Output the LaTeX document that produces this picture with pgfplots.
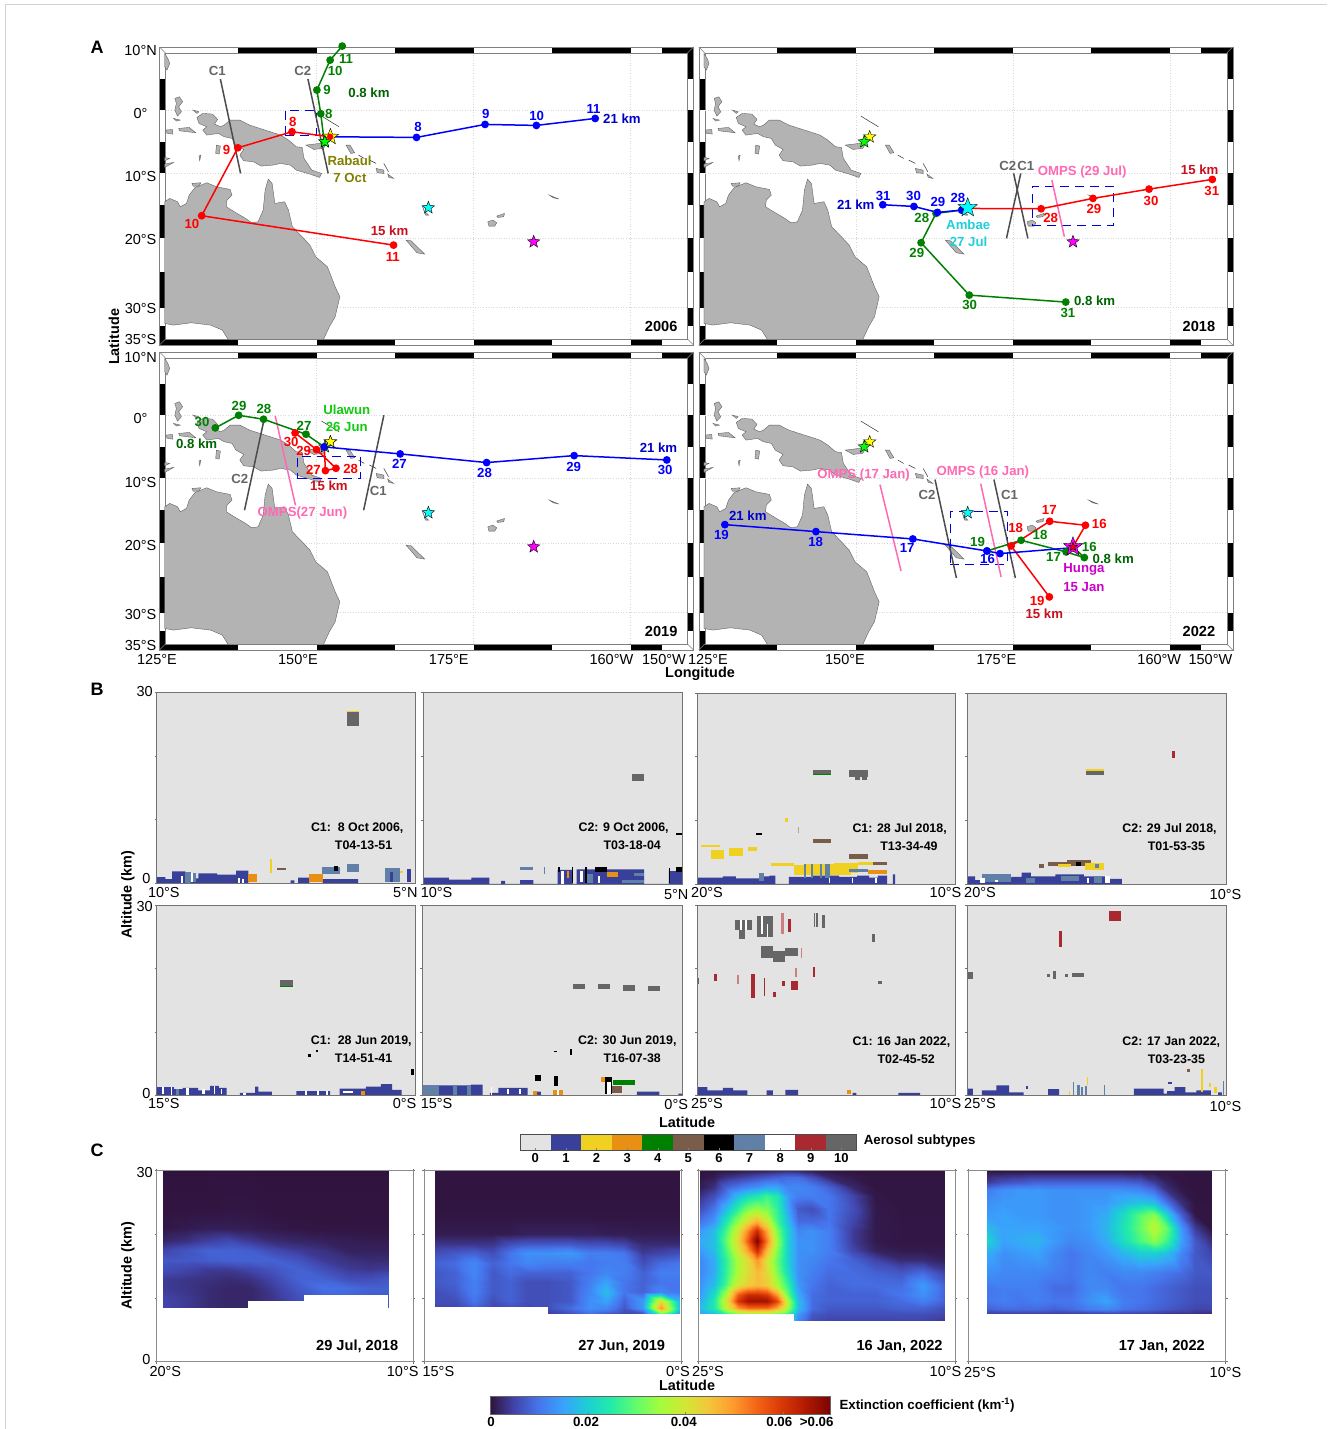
\documentclass[border=0pt]{standalone}
\usepackage{fontspec}
\setmainfont{Liberation Sans}
\usepackage{pgfplots}
\pgfplotsset{compat=1.18}
\usepackage{tikz}
\definecolor{aerA}{HTML}{E3E3E3}
\definecolor{aerB}{HTML}{39409A}
\definecolor{aerC}{HTML}{F0D020}
\definecolor{aerD}{HTML}{E89014}
\definecolor{aerE}{HTML}{008000}
\definecolor{aerF}{HTML}{7A5C4A}
\definecolor{aerH}{HTML}{6080A8}
\definecolor{aerJ}{HTML}{A82A30}
\definecolor{aerK}{HTML}{666666}
\definecolor{coast}{HTML}{B3B3B3}
\definecolor{lred}{HTML}{FF0000}
\definecolor{lblue}{HTML}{0000FF}
\definecolor{lgreen}{HTML}{008000}
\definecolor{dred}{HTML}{C8101E}
\definecolor{dblue}{HTML}{0000CC}
\definecolor{dgreen}{HTML}{006400}
\definecolor{pink}{HTML}{FF69B4}
\definecolor{olive2}{HTML}{808000}
\definecolor{cyan2}{HTML}{20D0D8}
\definecolor{lime2}{HTML}{10CC10}
\definecolor{mag2}{HTML}{CC00CC}
\definecolor{gr2}{HTML}{666666}
\definecolor{starY}{HTML}{FFFF00}
\definecolor{starG}{HTML}{00FF00}
\definecolor{starC}{HTML}{00FFFF}
\definecolor{starM}{HTML}{FF00FF}
\pgfplotsset{colormap={myturbo}{rgb255=(48,18,59) rgb255=(65,69,171) rgb255=(70,117,237) rgb255=(57,162,252) rgb255=(27,207,212) rgb255=(36,236,166) rgb255=(97,252,108) rgb255=(164,252,59) rgb255=(209,232,52) rgb255=(243,198,58) rgb255=(254,155,45) rgb255=(243,99,21) rgb255=(217,56,6) rgb255=(177,25,1) rgb255=(122,4,2)}}
\pgfdeclareplotmark{fstar}{%
\pgfpathmoveto{\pgfpointpolar{90}{\pgfplotmarksize}}%
\pgfpathlineto{\pgfpointpolar{126}{0.42\pgfplotmarksize}}%
\pgfpathlineto{\pgfpointpolar{162}{\pgfplotmarksize}}%
\pgfpathlineto{\pgfpointpolar{198}{0.42\pgfplotmarksize}}%
\pgfpathlineto{\pgfpointpolar{234}{\pgfplotmarksize}}%
\pgfpathlineto{\pgfpointpolar{270}{0.42\pgfplotmarksize}}%
\pgfpathlineto{\pgfpointpolar{306}{\pgfplotmarksize}}%
\pgfpathlineto{\pgfpointpolar{342}{0.42\pgfplotmarksize}}%
\pgfpathlineto{\pgfpointpolar{18}{\pgfplotmarksize}}%
\pgfpathlineto{\pgfpointpolar{54}{0.42\pgfplotmarksize}}%
\pgfpathclose\pgfusepathqfillstroke}
\pgfplotsset{
 mapax/.style={hide axis,clip=false,scale only axis,width=534pt,height=298pt,xmin=125,xmax=210,ymin=-37.4,ymax=10.05,anchor=south west},
 land/.style={fill=coast,draw=black!65,line width=.35pt,forget plot,x filter/.expression={113.93+x/16.14},y filter/.expression={12.74-y/18.84}},
 thinl/.style={draw=black!80,line width=.5pt,forget plot,x filter/.expression={113.93+x/16.14},y filter/.expression={12.74-y/18.84}},
 gridl/.style={draw=black!15,dotted,line width=.6pt,forget plot},
 bax/.style={scale only axis,anchor=south west,ymin=0,ymax=30,xtick=\empty,ytick={0,10,20,30},yticklabels={},tick align=outside,major tick length=2pt,ytick pos=left,axis line style={draw=black!55,line width=.6pt},tick style={draw=black!55,line width=.5pt},axis on top,clip=true},
 bbg/.style={axis background/.style={fill=aerA}},
 cax/.style={bax,ytick pos=both,xtick pos=both,xticklabels={},colormap name=myturbo,point meta min=0,point meta max=69.6,axis line style={draw=black!45,line width=.9pt}},
}
\newcommand\R[5]{\addplot[draw=none,fill=#1,forget plot] coordinates {(#2,#4)(#3,#4)(#3,#5)(#2,#5)} -- cycle;}
\newcommand\LOW[1]{\addplot[const plot,fill=aerB,draw=none,forget plot] coordinates {#1} \closedcycle;}
\newcommand\traj[2]{\addplot[color=#1,line width=1.5pt,mark=*,mark size=3.1pt,mark options={fill=#1,solid},forget plot] coordinates {#2};}
\newcommand\cut[2]{\addplot[color=#1,line width=1.5pt,forget plot] coordinates {#2};}
\newcommand\bluebox[4]{\addplot[color=blue!85!black,line width=.8pt,dash pattern=on 9pt off 6pt,forget plot] coordinates {(#1,#3)(#2,#3)(#2,#4)(#1,#4)(#1,#3)};}
\newcommand\vstar[4]{\addplot[only marks,mark=fstar,mark size=#4pt,mark options={fill=#1,draw=black,line width=.4pt},forget plot] coordinates {(#2,#3)};}
\newcommand\basemap{%
\addplot[gridl] coordinates {(150,-36.4)(150,9.1)};
\addplot[gridl] coordinates {(175,-36.4)(175,9.1)};
\addplot[gridl] coordinates {(200,-36.4)(200,9.1)};
\addplot[gridl] coordinates {(126,0)(209,0)};
\addplot[gridl] coordinates {(126,-10.05)(209,-10.05)};
\addplot[gridl] coordinates {(126,-20.42)(209,-20.42)};
\addplot[gridl] coordinates {(126,-31.47)(209,-31.47)};
\addplot[land] coordinates {(192,515)(205,505)(225,515)(232,530)(248,520)(255,495)(270,472)(300,458)(325,470)(360,478)(365,495)(352,510)(350,530)(375,548)(400,565)(415,578)(432,575)(445,540)(450,480)(458,447)(468,460)(475,520)(500,515)(510,540)(520,590)(545,620)(565,645)(580,680)(610,710)(630,770)(642,800)(630,860)(615,890)(600,928)(355,928)(340,900)(310,885)(260,878)(215,885)(192,880)} -- cycle;
\addplot[land] coordinates {(275,262)(290,250)(315,252)(328,268)(320,282)(335,290)(345,285)(360,270)(385,270)(410,285)(450,300)(490,315)(510,330)(530,350)(545,352)(550,385)(570,420)(595,430)(590,442)(565,432)(530,420)(515,405)(490,400)(470,405)(440,408)(420,395)(395,392)(385,375)(395,358)(375,345)(365,325)(345,320)(330,310)(300,315)(290,300)(300,290)(280,280)} -- cycle;
\addplot[land] coordinates {(218,205)(230,200)(238,215)(228,230)(235,245)(225,258)(218,240)(222,220)} -- cycle;
\addplot[land] coordinates {(265,240)(280,245)(275,250)} -- cycle;
\addplot[land] coordinates {(215,265)(232,270)(222,273)} -- cycle;
\addplot[land] coordinates {(228,295)(255,292)(272,308)(250,305)(230,302)} -- cycle;
\addplot[land] coordinates {(195,300)(212,298)(213,312)(198,310)} -- cycle;
\addplot[land] coordinates {(325,345)(335,348)(332,372)(323,370)} -- cycle;
\addplot[land] coordinates {(280,378)(285,375)(282,392)} -- cycle;
\addplot[land] coordinates {(192,402)(215,397)(192,412)} -- cycle;
\addplot[land] coordinates {(192,382)(205,385)(192,392)} -- cycle;
\addplot[land] coordinates {(192,70)(200,85)(205,100)(198,120)(192,110)} -- cycle;
\addplot[land] coordinates {(555,345)(590,340)(610,335)(600,355)(575,358)} -- cycle;
\addplot[land] coordinates {(658,345)(668,345)(680,368)(670,370)} -- cycle;
\addplot[land] coordinates {(735,415)(755,420)(755,430)(738,428)} -- cycle;
\addplot[land] coordinates {(765,432)(780,445)(768,442)} -- cycle;
\addplot[land] coordinates {(853,525)(860,545)(870,555)(862,555)} -- cycle;
\addplot[land] coordinates {(1180,495)(1205,507)(1190,503)} -- cycle;
\addplot[land] coordinates {(1022,575)(1035,570)(1045,578)(1040,588)(1025,588)} -- cycle;
\addplot[land] coordinates {(1045,558)(1065,550)(1063,560)(1048,562)} -- cycle;
\addplot[land] coordinates {(812,630)(825,632)(860,672)(840,668)} -- cycle;
\addplot[land] coordinates {(262,460)(285,458)(280,468)(265,468)} -- cycle;
\addplot[thinl] coordinates {(595,258)(640,290)};
\addplot[thinl] coordinates {(690,375)(705,385)};
\addplot[thinl] coordinates {(718,390)(735,400)};
\addplot[thinl] coordinates {(755,400)(767,425)};
\vstar{starY}{152.2}{-4.27}{6.5}
\vstar{starG}{151.33}{-5.05}{6.5}
\vstar{starC}{167.8}{-15.55}{6.5}
\vstar{starM}{184.56}{-20.97}{6.5}
}
\newcommand\mapframe[2]{%
\begin{scope}[shift={(#1pt,#2pt)}]
\fill[white] (0,0) rectangle (534,298);
\fill[black] (0,298-63.1) rectangle (6,298-31.65);
\fill[black] (0,298-126.2) rectangle (6,298-94.6);
\fill[black] (0,298-191.3) rectangle (6,298-158.2);
\fill[black] (0,298-260.7) rectangle (6,298-225.4);
\fill[black] (0,0) rectangle (6,298-279.2);
\fill[black] (528,298-31.65) rectangle (534,298);
\fill[black] (528,298-94.6) rectangle (534,298-63.1);
\fill[black] (528,298-158.2) rectangle (534,298-126.2);
\fill[black] (528,298-225.4) rectangle (534,298-191.3);
\fill[black] (528,298-279.2) rectangle (534,298-260.7);
\fill[black] (78.5,292) rectangle (157,298);
\fill[black] (235.5,292) rectangle (314,298);
\fill[black] (392.5,292) rectangle (471,298);
\fill[black] (502.4,292) rectangle (534,298);
\fill[black] (0,0) rectangle (78.5,6);
\fill[black] (157,0) rectangle (235.5,6);
\fill[black] (314,0) rectangle (392.5,6);
\fill[black] (471,0) rectangle (502.4,6);
\draw[black!50,line width=.6pt] (0,0) rectangle (534,298);
\draw[black!50,line width=.6pt] (6,6) rectangle (528,292);
\draw[black!50,line width=.5pt] (0,298)--(6,292) (534,298)--(528,292) (0,0)--(6,6) (534,0)--(528,6);
\end{scope}}
\newcommand\startgrid[1]{\gdef\gcols{#1}\gdef\gdata{}}
\newcommand\grow[2]{\foreach \xv [count=\i] in \gcols {\foreach \mv [count=\j] in {#2} {\ifnum\i=\j\relax\xdef\gdata{\gdata (\xv,#1)[\mv]}\fi}}}
\newcommand\drawgrid[1]{\edef\tmpplot{\noexpand\addplot[surf,shader=interp,mesh/cols=#1,point meta=explicit,forget plot] coordinates {\gdata};}\tmpplot}
\newcommand\LA[4]{\node[lab,text=#1] at ({90+#2/2.57},{1399-#3/3}) {#4};}
\newcommand\LB[4]{\node[lab,text=#1] at ({690+#2/2.8},{1399-#3/3}) {#4};}
\newcommand\LC[4]{\node[lab,text=#1] at ({90+#2/2.57},{1084-#3/3}) {#4};}
\newcommand\LD[4]{\node[lab,text=#1] at ({690+#2/2.8},{1084-#3/3}) {#4};}
\newcommand\T[3]{\node[tk] at (#1,{1429-#2}) {#3};}
\newcommand\N[3]{\node[note] at (#1,{1429-#2}) {#3};}
\newcommand\Y[3]{\node[yr] at (#1,{1429-#2}) {#3};}
\begin{document}
\begin{tikzpicture}[x=1pt,y=1pt,
 lab/.style={font=\bfseries\fontsize{13.2}{13.2}\selectfont,inner sep=0pt},
 tk/.style={font=\fontsize{14.5}{14.5}\selectfont,inner sep=0pt},
 hd/.style={font=\bfseries\fontsize{14.4}{14.4}\selectfont,inner sep=0pt},
 note/.style={font=\bfseries\fontsize{12.4}{12.4}\selectfont,inner sep=0pt},
 yr/.style={font=\bfseries\fontsize{14.6}{14.6}\selectfont,inner sep=0pt},
 cbl/.style={font=\bfseries\fontsize{13.3}{13.3}\selectfont,inner sep=0pt}]
\path[use as bounding box] (0,0) rectangle (1328,1429);
\draw[black!18,line width=.6pt] (5,-2)--(5,1425)--(1327,1425);
%%%%% PANEL A
\mapframe{159.5}{1084}
\mapframe{698.8}{1084}
\mapframe{159.5}{779}
\mapframe{698.8}{779}
\begin{axis}[mapax,at={(159.5pt,1084pt)}]
\basemap
\bluebox{144.97}{150.05}{-4.03}{0}
\cut{black!70}{(134.69,4.94)(137.91,-10.08)}
\cut{black!70}{(148.63,4.94)(151.85,-10.08)}
\traj{lgreen}{(151.23,-5.1)(150.67,-0.58)(150.05,3.19)(152.16,7.96)(154.08,10.19)}
\traj{lred}{(152.16,-4.25)(146.09,-3.45)(137.47,-6.0)(131.71,-16.82)(162.26,-21.5)}
\traj{lblue}{(152.16,-4.25)(165.91,-4.35)(176.82,-2.28)(184.99,-2.44)(194.35,-1.33)}
\vstar{starY}{152.2}{-4.27}{8.5}
\vstar{starG}{151.33}{-5.05}{6.5}
\addplot[only marks,mark=*,mark size=3pt,color=lred,forget plot] coordinates {(152.16,-4.25)};
\end{axis}
\begin{axis}[mapax,at={(698.8pt,1084pt)}]
\basemap
\bluebox{178.07}{191.03}{-18.31}{-12.1}
\cut{black!70}{(175.11,-10.08)(177.38,-20.43)}
\cut{black!70}{(176.25,-10.08)(173.97,-20.43)}
\cut{pink}{(181.2,-11.15)(183.19,-20.17)}
\traj{lgreen}{(166.86,-15.92)(162.76,-16.45)(160.38,-21.12)(168.05,-29.46)(183.41,-30.57)}
\traj{lblue}{(167.88,-15.66)(166.86,-15.92)(162.99,-16.29)(159.24,-15.34)(154.29,-15.07)}
\traj{lred}{(167.88,-15.66)(179.49,-15.71)(187.74,-14.06)(196.67,-12.58)(206.74,-11.04)}
\vstar{starC}{167.8}{-15.55}{10}
\end{axis}
\begin{axis}[mapax,at={(159.5pt,779pt)}]
\basemap
\bluebox{147.0}{157.0}{-10.1}{-6.5}
\cut{black!70}{(141.56,-1.09)(138.53,-15.15)}
\cut{black!70}{(160.71,-0.03)(157.49,-15.15)}
\cut{pink}{(143.42,-0.13)(146.64,-14.36)}
\traj{lgreen}{(151.23,-5.07)(148.32,-3.05)(141.56,-0.66)(137.6,-0.03)(133.88,-2.04)}
\traj{lred}{(151.23,-5.07)(151.41,-8.84)(153.09,-8.47)(149.99,-5.49)(146.58,-2.84)}
\traj{lblue}{(151.23,-5.07)(163.31,-6.18)(177.07,-7.56)(191.0,-6.45)(205.75,-7.14)}
\vstar{starY}{152.2}{-4.27}{6.5}
\end{axis}
\begin{axis}[mapax,at={(698.8pt,779pt)}]
\basemap
\bluebox{165.04}{174.08}{-23.81}{-15.26}
\cut{black!70}{(162.6,-10.27)(166.0,-25.93)}
\cut{black!70}{(171.98,-10.27)(175.39,-25.93)}
\cut{pink}{(153.84,-11.07)(157.19,-24.81)}
\cut{pink}{(169.87,-10.91)(173.12,-25.77)}
\traj{lgreen}{(184.56,-20.97)(186.37,-22.69)(183.47,-21.79)(176.3,-19.93)(170.9,-21.63)}
\traj{lred}{(184.56,-20.97)(186.54,-17.54)(180.85,-16.91)(174.71,-20.83)(180.8,-28.95)}
\traj{lblue}{(184.67,-21.1)(172.95,-22.05)(170.85,-21.63)(159.07,-19.72)(143.65,-18.55)(129.15,-17.44)}
\vstar{starM}{184.56}{-20.97}{10}
\vstar{lred}{184.56}{-20.97}{4.5}
\end{axis}
% labels A1
\LA{gr2}{327}{124}{C1}\LA{gr2}{547}{124}{C2}
\LA{lgreen}{658}{88}{11}\LA{lgreen}{630}{124}{10}\LA{lgreen}{609}{181}{9}\LA{lgreen}{614}{251}{8}
\LA{dgreen}{717}{188}{0.8 km}
\LA{lblue}{843}{290}{8}\LA{lblue}{1017}{252}{9}\LA{lblue}{1148}{258}{10}\LA{lblue}{1294}{236}{11}\LA{dblue}{1367}{266}{21 km}
\LA{lred}{521}{277}{8}\LA{lred}{351}{361}{9}\LA{lred}{262}{583}{10}\LA{lred}{778}{680}{11}\LA{dred}{770}{603}{15 km}
\LA{olive2}{667}{391}{Rabaul}\LA{olive2}{668}{443}{7 Oct}
\Y{661.2}{326}{2006}
% labels A2
\LB{gr2}{890}{408}{C2}\LB{gr2}{940}{408}{C1}\LB{pink}{1098}{425}{OMPS (29 Jul)}
\LB{dred}{1427}{418}{15 km}\LB{lred}{1461}{484}{31}\LB{lred}{1131}{537}{29}\LB{lred}{1291}{512}{30}\LB{lred}{1010}{565}{28}
\LB{dblue}{464}{525}{21 km}\LB{lblue}{541}{497}{31}\LB{lblue}{626}{497}{30}\LB{lblue}{694}{516}{29}\LB{lblue}{750}{504}{28}
\LB{lgreen}{649}{563}{28}\LB{lgreen}{635}{669}{29}\LB{lgreen}{783}{825}{30}\LB{lgreen}{1058}{848}{31}\LB{dgreen}{1133}{813}{0.8 km}
\LB{cyan2}{779}{583}{Ambae}\LB{cyan2}{780}{634}{27 Jul}
\Y{1198.9}{326}{2018}
% labels A3
\LC{lgreen}{288}{230}{30}\LC{lgreen}{383}{183}{29}\LC{lgreen}{447}{193}{28}\LC{lgreen}{550}{242}{27}\LC{dgreen}{274}{295}{0.8 km}
\LC{lime2}{660}{193}{Ulawun}\LC{lime2}{660}{247}{26 Jun}
\LC{lred}{517}{292}{30}\LC{lred}{549}{317}{29}\LC{lred}{574}{375}{27}\LC{lred}{670}{372}{28}\LC{dred}{614}{423}{15 km}
\LC{lblue}{795}{357}{27}\LC{lblue}{1014}{385}{28}\LC{lblue}{1243}{366}{29}\LC{lblue}{1478}{374}{30}\LC{dblue}{1461}{308}{21 km}
\LC{gr2}{385}{402}{C2}\LC{gr2}{741}{437}{C1}\LC{pink}{546}{505}{OMPS(27 Jun)}
\Y{661.2}{631}{2019}
% labels A4
\LD{pink}{486}{391}{OMPS (17 Jan)}\LD{pink}{820}{380}{OMPS (16 Jan)}\LD{gr2}{664}{450}{C2}\LD{gr2}{895}{450}{C1}
\LD{dblue}{162}{513}{21 km}\LD{lblue}{88}{569}{19}\LD{lblue}{352}{592}{18}\LD{lblue}{608}{610}{17}\LD{lblue}{833}{643}{16}
\LD{lred}{1006}{494}{17}\LD{lred}{1146}{536}{16}\LD{lred}{912}{548}{18}\LD{lred}{972}{769}{19}\LD{dred}{992}{807}{15 km}
\LD{lgreen}{805}{590}{19}\LD{lgreen}{980}{571}{18}\LD{lgreen}{1118}{607}{16}\LD{lgreen}{1018}{637}{17}\LD{dgreen}{1185}{640}{0.8 km}
\LD{mag2}{1103}{674}{Hunga}\LD{mag2}{1103}{727}{15 Jan}
\Y{1198.9}{631}{2022}
% ticks A
\T{140.6}{50.7}{10°N}\T{140.6}{113.3}{0°}\T{140.6}{176.7}{10°S}\T{140.6}{240}{20°S}\T{140.6}{308.3}{30°S}\T{140.6}{340}{35°S}
\T{140.6}{357.3}{10°N}\T{140.6}{419}{0°}\T{140.6}{482.7}{10°S}\T{140.6}{546}{20°S}\T{140.6}{614.3}{30°S}\T{140.6}{646}{35°S}
\T{157}{660}{125°E}\T{298}{660}{150°E}\T{448.8}{660}{175°E}\T{611.4}{660}{160°W}\T{664}{660}{150°W}
\T{708}{660}{125°E}\T{845}{660}{150°E}\T{996.4}{660}{175°E}\T{1159.3}{660}{160°W}\T{1210.4}{660}{150°W}
\node[font=\bfseries\fontsize{18}{18}\selectfont,inner sep=0pt] at (97,{1429-47}) {A};
\node[font=\bfseries\fontsize{18}{18}\selectfont,inner sep=0pt] at (97,{1429-689}) {B};
\node[font=\bfseries\fontsize{18}{18}\selectfont,inner sep=0pt] at (97,{1429-1150}) {C};
\node[hd,rotate=90] at (114,{1429-337}) {Latitude};
\node[hd] at (700,{1429-674}) {Longitude};
\node[hd,rotate=90] at (128,{1429-895}) {Altitude (km)};
\node[hd,rotate=90] at (128,{1429-1266}) {Altitude (km)};
\node[hd] at (687,{1429-1122}) {Latitude};
\node[hd] at (687,{1429-1385}) {Latitude};
%%%%% PANEL B row 1
\begin{axis}[bax,bbg,at={(156.7pt,545.5pt)},width=258.8pt,height=191.5pt,xmin=-10,xmax=5]
\LOW{(-10,1.0)(-9.5,.7)(-9.11,1.9)(-8.34,0.8)(-7.58,1.6)(-6.5,1.4)(-5.4,2.0)(-4.68,0)(-2.24,0.5)(-2.02,0)(-1.8,0.9)(-1.15,0)(-0.39,0.7)(1.68,0)(4.74,0)}
\R{aerH}{-8.34}{-8.0}{0}{1.8}\R{white}{-8.0}{-7.9}{0.2}{1.6}\R{aerH}{-7.9}{-7.7}{0.2}{1.7}\R{white}{-8.6}{-8.5}{0}{1.1}
\R{white}{-5.3}{-5.15}{0}{0.9}\R{white}{-5.05}{-4.95}{0}{0.7}
\R{aerK}{1.03}{1.75}{24.6}{26.8}\R{aerC}{1.03}{1.75}{26.8}{27}
\R{aerC}{-3.46}{-3.33}{1.67}{3.9}\R{aerF}{-3.05}{-2.52}{2.09}{2.5}
\R{aerD}{-4.68}{-4.2}{0.26}{1.56}\R{aerD}{-1.15}{-0.39}{.26}{1.46}
\R{aerH}{-0.43}{0.6}{1.56}{2.6}\R{black}{0.28}{0.5}{2}{2.7}\R{aerH}{1.03}{1.75}{1.8}{3.1}
\R{aerH}{3.21}{4.08}{.26}{2.35}\R{aerB}{4.52}{4.74}{.26}{2.2}\R{aerC}{4.08}{4.25}{1.67}{1.98}\R{aerB}{3.5}{3.7}{.3}{1.8}
\end{axis}
\begin{axis}[bax,bbg,at={(423pt,545pt)},width=259.6pt,height=191.5pt,xmin=-10,xmax=5]
\LOW{(-10,1)(-8.5,.7)(-7.2,1)(-6.17,0)(-5.48,.5)(-5.26,0)(-4.39,.6)(-3.63,0)(-2.22,2.2)(-1.35,0)(-1.13,2.3)(2.78,0)(4.2,2.0)(5,0)}
\R{white}{-2.0}{-1.85}{0}{2.0}\R{aerD}{-1.7}{-1.55}{1}{2}\R{white}{-0.9}{-0.75}{0.3}{2}\R{aerH}{-0.5}{-0.2}{0.2}{1.6}\R{white}{0.1}{0.2}{0.2}{1.2}\R{aerH}{2.2}{2.78}{1.3}{1.7}
\R{black}{-0.65}{-0.52}{0.1}{2.7}\R{black}{-0.09}{0.65}{1.93}{2.6}\R{aerD}{.65}{1.26}{1.15}{1.93}\R{aerH}{-4.39}{-3.63}{2.2}{2.6}\R{aerH}{1.48}{2.78}{.2}{.63}
\R{black}{-2.22}{-2.1}{1.9}{2.7}\R{black}{-1.4}{-1.33}{0.1}{2.7}\R{black}{4.2}{4.26}{0.1}{2.5}\R{black}{4.59}{4.96}{1.93}{2.6}
\R{aerK}{2.07}{2.78}{16.2}{17.2}\R{black}{4.63}{4.96}{7.7}{8.0}\R{aerH}{-3.0}{-2.93}{1.5}{2.7}
\end{axis}
\begin{axis}[bax,bbg,at={(697pt,545pt)},width=258.3pt,height=191pt,xmin=-20,xmax=-10]
\LOW{(-20,1.0)(-19,1.2)(-18.5,.9)(-17.6,1.2)(-17.2,1.3)(-16.97,0)(-16.44,1.1)(-15.5,1.3)(-14.5,1.1)(-13.8,1.3)(-13.34,1.0)(-13,1.3)(-12.64,0)(-12.42,1.5)(-12.33,0)}
\R{aerC}{-19.85}{-19.11}{5.86}{6.2}\R{aerC}{-19.46}{-18.94}{4}{5.34}\R{aerC}{-18.76}{-18.23}{4.45}{5.6}\R{aerC}{-18.03}{-17.68}{5.2}{5.76}
\R{aerC}{-17.14}{-16.23}{2.83}{3.35}\R{aerC}{-16.23}{-15.8}{1.4}{3}\R{aerC}{-15.8}{-14.04}{1.4}{3.14}\R{aerC}{-14.68}{-13.76}{1.67}{3.25}\R{aerC}{-13.76}{-13.2}{3}{3.5}
\R{aerF}{-15.52}{-14.82}{6.4}{7.0}\R{aerF}{-14.11}{-13.38}{3.93}{4.66}\R{aerF}{-13.2}{-12.66}{2.93}{3.46}
\R{aerD}{-13.38}{-12.66}{1.57}{2.2}\R{aerH}{-14.11}{-13.38}{1.83}{2.36}
\R{aerK}{-15.52}{-14.82}{17.23}{17.9}\R{aerE}{-15.52}{-14.82}{17.15}{17.25}\R{aerK}{-14.11}{-13.38}{16.75}{17.9}\R{aerK}{-13.9}{-13.7}{16.3}{16.75}\R{aerK}{-13.62}{-13.4}{16.3}{16.75}
\R{black}{-17.7}{-17.5}{7.64}{8.06}\R{aerC}{-16.58}{-16.47}{9.7}{10.3}
\R{aerH}{-15.85}{-15.78}{1}{3.1}\R{aerH}{-15.6}{-15.52}{1}{3.1}\R{aerH}{-15.25}{-15.18}{1}{3.1}\R{aerH}{-15.05}{-14.85}{1}{3.1}\R{aerH}{-17.6}{-17.4}{.5}{1.8}\R{black!35}{-16.1}{-16.07}{8}{9}
\R{white}{-14.9}{-14.85}{.2}{1}\R{white}{-14}{-13.95}{.1}{1}\R{white}{-13.1}{-13.03}{.1}{1}
\end{axis}
\begin{axis}[bax,bbg,at={(967.3pt,545pt)},width=259.2pt,height=191pt,xmin=-20,xmax=-10]
\LOW{(-20,1.2)(-19.7,.6)(-19.3,1.0)(-18.3,1.1)(-17.9,1.8)(-17.55,1.2)(-16.6,1.5)(-15.5,1.2)(-14.6,.8)(-14.04,0)}
\R{aerH}{-19.44}{-18.32}{.35}{1.57}\R{aerH}{-17.75}{-17.4}{.2}{.9}\R{white}{-19.5}{-19.3}{.2}{1}\R{white}{-18.95}{-18.8}{.3}{.7}\R{aerH}{-16.4}{-15.7}{.5}{1.2}\R{white}{-15.4}{-15.3}{.2}{1}\R{aerH}{-15.1}{-14.8}{.2}{1.3}\R{white}{-14.7}{-14.5}{.2}{1.2}
\R{aerF}{-17.24}{-17.05}{2.56}{3.1}\R{aerF}{-16.89}{-16.14}{2.83}{3.5}\R{aerF}{-16.14}{-15.23}{2.83}{3.77}
\R{aerC}{-16.5}{-16}{2.6}{3.2}\R{aerC}{-15.47}{-14.74}{2.2}{3.35}\R{black}{-15.79}{-15.62}{2.83}{3.4}\R{aerH}{-15.09}{-14.92}{2.46}{3.1}
\R{aerK}{-15.44}{-14.74}{17.1}{17.8}\R{aerC}{-15.44}{-14.74}{17.8}{18}\R{aerJ}{-12.1}{-12.0}{19.85}{20.84}
\end{axis}
%%%%% PANEL B row 2
\begin{axis}[bax,bbg,at={(156.7pt,333.5pt)},width=258.8pt,height=190.5pt,xmin=-15,xmax=0]
\LOW{(-15,1.3)(-14,1.0)(-13.5,1.2)(-12.6,.8)(-11.9,1.5)(-11.4,1.2)(-10.95,0)(-10.18,.4)(-9.3,1.4)(-9.1,.6)(-8.33,0)(-6.91,.7)(-4.95,0)(-4.4,1.1)(-2.88,1.4)(-2,1.8)(-1.35,.9)(-0.81,0)}
\R{white}{-14.7}{-14.6}{.2}{1.3}\R{white}{-14.2}{-14.1}{.1}{1.3}\R{white}{-13.3}{-13.15}{.1}{1.2}\R{white}{-12.4}{-12.2}{.2}{1}\R{white}{-11.7}{-11.6}{.2}{1.5}\R{white}{-11.3}{-11.2}{.2}{1}\R{aerH}{-13.9}{-13.7}{.1}{1}\R{white}{-10}{-9.8}{0.1}{.4}\R{white}{-6.4}{-6.3}{.1}{.7}\R{white}{-5.7}{-5.6}{.1}{.7}\R{white}{-5.2}{-5.1}{.1}{.7}\R{white}{-4.2}{-3.6}{.45}{.7}
\R{aerD}{-3.14}{-2.92}{0}{.63}\R{aerK}{-7.83}{-7.11}{17.3}{18.25}\R{aerE}{-7.83}{-7.11}{17.2}{17.3}\R{black}{-0.26}{-0.09}{3.15}{4.2}\R{black}{-6.21}{-6.04}{6}{6.5}\R{black}{-5.78}{-5.67}{6.9}{7.1}
\end{axis}
\begin{axis}[bax,bbg,at={(422.3pt,333.5pt)},width=259.6pt,height=190.5pt,xmin=-15,xmax=0]
\LOW{(-15,1.6)(-12.2,1.7)(-11.52,0)(-11.09,.4)(-10.6,1.2)(-8.91,0)(-8.59,.6)(-8.15,0)(-2.6,.6)(-1.3,0)(-0.2,.3)(0,0)}
\R{aerH}{-15}{-14.02}{0}{1.57}\R{aerH}{-13.2}{-13}{0}{1.6}\R{aerH}{-12.4}{-12.2}{0}{1.6}\R{white}{-11.05}{-10.95}{.1}{1.4}\R{white}{-10.1}{-10}{.2}{1}\R{white}{-9.4}{-9.3}{.2}{1}
\R{aerK}{-6.3}{-5.59}{16.83}{17.57}\R{aerK}{-4.87}{-4.13}{16.83}{17.57}\R{aerK}{-3.41}{-2.7}{16.5}{17.4}\R{aerK}{-1.98}{-1.26}{16.4}{17.3}
\R{black}{-8.48}{-8.15}{2.36}{3.3}\R{black}{-7.39}{-7.17}{1.57}{3}\R{black}{-6.48}{-6.35}{6.3}{7.3}\R{black}{-7.39}{-7.24}{6.8}{7.0}
\R{black}{-4.46}{-4.02}{.26}{2.9}\R{white}{-4.3}{-4.1}{.3}{2.1}\R{aerE}{-3.96}{-2.72}{1.68}{2.5}\R{aerF}{-4.02}{-3.48}{.4}{1.47}\R{aerD}{-4.67}{-4.46}{2.1}{2.9}
\R{aerD}{-7.43}{-6.85}{0}{.8}\R{aerD}{-8.59}{-8.35}{0}{.7}\R{white}{-7.2}{-7.1}{0}{.8}
\end{axis}
\begin{axis}[bax,bbg,at={(697pt,333.5pt)},width=258.3pt,height=190.5pt,xmin=-25,xmax=-10]
\LOW{(-25,1.3)(-24.4,.8)(-23.5,1.2)(-22.9,.8)(-22.08,0)(-20.96,.8)(-20.6,0)(-19.87,.9)(-19.13,0)(-15.96,.4)(-15.75,0)(-13.31,.4)(-12.05,0)}
\R{aerK}{-22.78}{-21.83}{26}{27.6}\R{white}{-22.5}{-22.4}{26}{27.6}\R{white}{-22.2}{-22.1}{26}{27.6}\R{aerK}{-22.57}{-22.19}{24.65}{26}
\R{aerK}{-21.51}{-20.6}{25}{28.3}\R{white}{-21.3}{-21.15}{25.5}{28.3}\R{white}{-20.95}{-20.85}{25}{27}
\R{aerK}{-18.22}{-18.17}{26.6}{28.7}\R{aerK}{-18.08}{-18.0}{26.6}{28.7}\R{aerK}{-17.75}{-17.58}{26.4}{28.5}\R{aerK}{-14.84}{-14.65}{24.1}{25.4}
\R{aerK}{-21.3}{-20.56}{21.6}{23.6}\R{aerK}{-20.6}{-19.87}{21.1}{22.7}\R{aerK}{-19.87}{-19.13}{21.9}{23.2}
\R{aerJ!60}{-20.14}{-19.95}{25.5}{28.8}\R{aerJ}{-19.7}{-19.55}{25.7}{27.8}\R{aerJ}{-24.03}{-23.82}{18}{19.2}\R{aerJ!60}{-22.65}{-22.57}{17.5}{19}
\R{aerJ}{-21.87}{-21.66}{15.3}{19.2}\R{aerJ}{-21.13}{-21.03}{15.6}{18.5}\R{aerJ}{-20.6}{-20.41}{15.55}{16.3}\R{aerJ}{-20.08}{-19.87}{17.2}{18.1}\R{aerJ}{-19.53}{-19.13}{16.6}{18.1}\R{aerJ}{-18.28}{-18.13}{18.7}{20.3}\R{aerJ!60}{-19.32}{-19.21}{18.6}{20}\R{aerJ!60}{-18.98}{-18.9}{21.6}{23.2}
\R{aerK}{-14.48}{-14.27}{17.5}{18.1}\R{aerK}{-25}{-24.89}{17.5}{18.5}\R{aerD}{-16.27}{-16.06}{.3}{.84}
\end{axis}
\begin{axis}[bax,bbg,at={(967.3pt,333.5pt)},width=259.2pt,height=190.5pt,xmin=-25,xmax=-10]
\LOW{(-25,1.1)(-24.68,0)(-24.16,.8)(-23.32,1.6)(-22.58,.5)(-21.74,0)(-20.33,1.0)(-19.68,0)(-15.36,1.1)(-13.64,0.3)(-13.43,.7)(-13,1.3)(-12.38,.5)(-11.74,.8)(-10.9,0)(-10.48,.5)(-10.27,0)}
\R{aerB}{-21.63}{-21.47}{1}{1.57}\R{aerB}{-13.37}{-13.18}{1.83}{2.2}
\R{aerH}{-18.9}{-18.82}{0}{2.1}\R{aerH}{-18.65}{-18.5}{0}{1.6}\R{aerH}{-18.4}{-18.3}{0}{1.4}\R{aerH}{-18.2}{-18.1}{0}{1.5}\R{aerH}{-17.1}{-17.03}{0}{1.7}\R{aerC}{-18.05}{-18}{1.6}{2.9}\R{aerC}{-19.1}{-19.03}{0}{.7}
\R{aerC}{-11.45}{-11.38}{.6}{4.2}\R{aerC}{-10.75}{-10.55}{0.4}{1.3}\R{aerH}{-10.2}{-10.12}{0}{2.3}\R{aerC}{-11}{-10.9}{1.4}{1.9}
\R{aerJ}{-16.8}{-16.1}{27.5}{29.1}\R{aerJ}{-19.68}{-19.51}{23.4}{25.9}
\R{aerK}{-25}{-24.68}{18.3}{19.4}\R{aerK}{-20.37}{-20.2}{18.7}{19.2}\R{aerK}{-20.06}{-19.85}{18.4}{19.6}\R{aerK}{-19.32}{-19.15}{18.7}{19.2}\R{aerK}{-18.94}{-18.23}{18.6}{19.3}
\R{aerF}{-12.31}{-12.12}{3.7}{4.1}
\end{axis}
% texts B
\N{357.2}{828.3}{C1:\ \ 8 Oct 2006,}\N{363.6}{845.7}{T04-13-51}
\N{623.6}{828.3}{C2: 9 Oct 2006,}\N{632.2}{845.7}{T03-18-04}
\N{899.6}{828.7}{C1: 28 Jul 2018,}\N{909}{846}{T13-34-49}
\N{1169.5}{828.7}{C2: 29 Jul 2018,}\N{1176.4}{846}{T01-53-35}
\N{361.3}{1040.7}{C1:\ \ 28 Jun 2019,}\N{363.6}{1058.7}{T14-51-41}
\N{627.3}{1040.7}{C2: 30 Jun 2019,}\N{632.2}{1058.7}{T16-07-38}
\N{901.5}{1041.7}{C1: 16 Jan 2022,}\N{906.2}{1059.7}{T02-45-52}
\N{1171.3}{1041.7}{C2: 17 Jan 2022,}\N{1176.4}{1059.7}{T03-23-35}
\T{163.8}{893}{10°S}\T{405.3}{893}{5°N}\T{436.6}{893}{10°S}\T{676.2}{895}{5°N}\T{707}{893}{20°S}\T{945.5}{893}{10°S}\T{980}{893}{20°S}\T{1225.5}{895}{10°S}
\T{144.6}{692}{30}\T{146.5}{879}{0}
\T{163.8}{1104}{15°S}\T{404.6}{1104}{0°S}\T{436.6}{1104}{15°S}\T{676.2}{1105}{0°S}\T{707}{1104}{25°S}\T{945.5}{1104}{10°S}\T{980}{1104}{25°S}\T{1225.5}{1107}{10°S}
\T{144.6}{907}{30}\T{146.5}{1094}{0}
\T{165.3}{1371.7}{20°S}\T{402.7}{1371.7}{10°S}\T{438.4}{1371.7}{15°S}\T{678}{1371.7}{0°S}\T{708}{1371.7}{25°S}\T{945.5}{1371.7}{10°S}\T{980}{1373}{25°S}\T{1225.5}{1373}{10°S}
\T{144.6}{1172.7}{30}\T{146.5}{1360}{0}
%%%%% PANEL C
\startgrid{-19.75,-18.9,-18,-17.2,-16.4,-15.5,-14.5,-13.5,-12.5,-11.7,-10.97}
\grow{8.5}{5,4,2.5,2,2,3,5,6,6,6,6}
\grow{10}{5,4,2.5,2,2,3.5,6,8,8,7,7}
\grow{11.5}{4,3.5,2.5,2,2,4,7,9.5,9,8,8}
\grow{13}{4,3.5,3,2.5,3,5,8,8,6,6,7}
\grow{14.5}{6,5,4,4,5,6.5,8,6,4,3.5,4}
\grow{16}{7,7,7.5,8,8,8,6.5,4,3,2.5,2.5}
\grow{17.5}{5,6.5,8,8,7.5,5.5,4,3,1.5,1.5,1.5}
\grow{19}{2,3,4.5,5.5,4,2.5,2,1.5,1.2,1,1}
\grow{21}{.4,.8,1.2,1.2,1,.7,.4,.3,.3,.3,.3}
\grow{24}{.2,.2,.2,.4,.4,.2,.2,.2,.2,.2,.2}
\grow{30}{.1,.1,.1,.1,.1,.1,.1,.1,.1,.1,.1}
\begin{axis}[cax,at={(156.7pt,67.3pt)},width=256.5pt,height=191pt,xmin=-20,xmax=-10,xtick={-20,-10}]
\drawgrid{11}
\R{white}{-16.45}{-14.25}{0}{9.53}\R{white}{-14.25}{-10.97}{0}{10.47}
\end{axis}
\startgrid{-14.34,-13.2,-12.1,-11.0,-10.0,-9.0,-7.8,-6.5,-5.3,-4.4,-3.3,-2.2,-1.15,-0.11}
\grow{7.5}{3,3,3,3,3,3,4,6,9,7,5,6,30,12}
\grow{8.5}{5,5,8,5,6,5,6,9,13,12,7,14,50,20}
\grow{9.5}{6,6,10,6,8,6,6,7,13,15,8,14,42,18}
\grow{11}{6,7,11,7,8,6,6,7,12,18,10,8,12,10}
\grow{12.5}{7,8,11,7,8,6,6,7,11,15,10,8,10,10}
\grow{14}{7,8,12,7,9,8,8,8,10,12,11,8,11,11}
\grow{15.5}{8,9,12,8,10,12,11,11,10,11,11,6,9,10}
\grow{17}{6,7,8,6,10,13,13,14,11,11,10,4,5,6}
\grow{18.5}{3.5,3.5,3.5,3.5,6,7,7,7,6,6,5,2.5,2.5,2.5}
\grow{20}{1,1,1,1,1,1.5,1.5,1.5,1.5,1.2,1.2,1,1,1}
\grow{23}{.3,.3,.3,.3,.3,.3,.3,.3,.3,.3,.3,.3,.3,.3}
\grow{30}{.2,.2,.2,.2,.2,.2,.2,.2,.2,.2,.2,.2,.2,.2}
\begin{axis}[cax,at={(424pt,67.3pt)},width=257pt,height=191pt,xmin=-15,xmax=0,xtick={-15,0}]
\drawgrid{14}
\R{white}{-14.34}{-7.75}{0}{8.53}
\end{axis}
\startgrid{-24.92,-24.1,-23.4,-22.7,-22.1,-21.58,-21,-20.4,-19.8,-19.2,-18.4,-17.4,-16,-14.7,-13.2,-11.9,-10.62}
\grow{6.5}{14,18,26,32,34,34,33,30,26,12,6,5,5,5,5,5,4}
\grow{7.5}{14,18,26,32,34,34,33,30,26,14,7,6,6,6,6,6,5}
\grow{8.5}{18,24,38,50,54,54,54,48,34,18,9,7,7,7,8,8,6}
\grow{9.5}{16,24,40,60,66,66,66,58,36,18,9,8,8,8,9,11,8}
\grow{10.5}{14,22,36,56,62,62,60,50,30,16,9,8,8,8,10,13,8}
\grow{12}{13,18,28,40,44,46,44,36,26,14,10,8,9,9,9,14,8}
\grow{14}{12,16,26,36,42,46,42,32,22,13,11,9,9,8,7,9,5}
\grow{16}{12,16,26,36,42,50,40,30,20,13,12,10,8,5,2.5,2.5,1.5}
\grow{17.5}{14,18,28,40,50,62,46,32,20,13,13,11,5,1.5,.8,.8,.8}
\grow{19}{16,18,30,42,56,70,52,34,20,13,13,11,4,.8,.5,.5,.5}
\grow{20.5}{14,18,28,40,52,62,48,32,20,12,13,11,4,.8,.5,.5,.5}
\grow{22}{10,14,24,34,42,48,40,28,18,9,9,10,5,.8,.5,.5,.5}
\grow{24}{6,10,18,26,32,34,32,26,15,7,6,10,6,.8,.4,.4,.4}
\grow{26}{3,6,11,18,22,24,27,24,14,11,11,10,5,.6,.3,.3,.3}
\grow{27.5}{1,3,8,10,12,13,15,15,12,12,11,8,2,.3,.3,.3,.3}
\grow{29}{.3,1,3,4,5,6,7,8,9,9,6,2,.8,.3,.3,.3,.3}
\grow{30}{.2,.2,.4,1,1.5,1.5,2,2.5,3,2.5,1.5,.5,.2,.2,.2,.2,.2}
\begin{axis}[cax,at={(698.5pt,67.3pt)},width=256.8pt,height=191pt,xmin=-25,xmax=-10,xtick={-25,-10}]
\drawgrid{17}
\R{white}{-24.92}{-19.4}{0}{7.54}
\end{axis}
\startgrid{-23.96,-23,-22,-21,-20,-19,-18,-17,-16,-15,-14.2,-13.4,-12.6,-11.8,-10.83}
\grow{7.54}{4,4,4,4,4,4,4,4,4,4,4,3,3,3,2.5}
\grow{8.2}{8,9,9,9,8,9,11,12,10,9,8,7,6,5,5}
\grow{9.5}{10,11,10,11,10,10,13,15,11,10,9,8,7,6,6}
\grow{11.5}{10,11,11,11,9,9,12,12,10,10,9,8,7,6,6}
\grow{14}{13,12,12,12,11,10,12,11,12,12,11,10,9,7,7}
\grow{17}{16,13,14,15,12,10,12,14,17,20,20,18,12,7,5}
\grow{19}{21,15,16,17,14,12,13,16,22,28,33,27,15,7,3}
\grow{21}{18,15,15,15,14,13,14,17,23,30,37,30,14,4,.3}
\grow{23}{14,15,14,14,13,13,14,16,22,29,33,21,8,.5,.3}
\grow{25}{13,14,14,14,13,13,14,14,17,19,18,10,3,.3,.3}
\grow{27}{11,13,14,14,13,13,13,13,13,12,9,3,.8,.2,.2}
\grow{28.3}{4,6,7,8,8,8,8,8,8,7,4,1.5,.4,.2,.2}
\grow{30}{.3,.3,.3,.3,.3,.3,.3,.3,.3,.3,.3,.3,.3,.3,.3}
\begin{axis}[cax,at={(968.7pt,67.3pt)},width=256.8pt,height=191pt,xmin=-25,xmax=-10,xtick={-25,-10}]
\drawgrid{15}
\end{axis}
\node[yr] at (357.2,{1429-1346.3}) {29 Jul, 2018};
\node[yr] at (621.7,{1429-1346.3}) {27 Jun, 2019};
\node[yr] at (899.6,{1429-1346.3}) {16 Jan, 2022};
\node[yr] at (1161.8,{1429-1346.3}) {17 Jan, 2022};
%%%%% colourbars
\begin{axis}[scale only axis,anchor=south west,at={(520pt,279pt)},width=336.7pt,height=15.7pt,xmin=0,xmax=11,ymin=0,ymax=1,ytick=\empty,xtick={.5,1.5,2.5,3.5,4.5,5.5,6.5,7.5,8.5,9.5,10.5},xticklabels={0,1,2,3,4,5,6,7,8,9,10},xtick pos=bottom,tick align=inside,major tick length=2pt,tick label style={font=\bfseries\fontsize{13}{13}\selectfont,inner sep=1pt,text height=9.5pt,text depth=0pt},xticklabel style={yshift=-1.5pt},axis line style={draw=black!70,line width=.7pt},axis on top]
\R{aerA}{0}{1}{0}{1}\R{aerB}{1}{2}{0}{1}\R{aerC}{2}{3}{0}{1}\R{aerD}{3}{4}{0}{1}\R{aerE}{4}{5}{0}{1}\R{aerF}{5}{6}{0}{1}\R{black}{6}{7}{0}{1}\R{aerH}{7}{8}{0}{1}\R{white}{8}{9}{0}{1}\R{aerJ}{9}{10}{0}{1}\R{aerK}{10}{11}{0}{1}
\end{axis}
\node[cbl,anchor=west] at (863.6,{1429-1141}) {Aerosol subtypes};
\begin{axis}[scale only axis,anchor=south west,at={(490pt,15pt)},width=340pt,height=18pt,xmin=0,xmax=69.6,ymin=0,ymax=1,ytick=\empty,xtick={0,20,40,60},xticklabels={},xtick pos=bottom,tick align=inside,major tick length=2pt,axis line style={draw=black!60,line width=.7pt},axis on top,colormap name=myturbo,point meta min=0,point meta max=69.6]
\addplot[surf,shader=interp,mesh/cols=2,point meta=explicit,forget plot] coordinates {(0,0)[0](69.6,0)[69.6](0,1)[0](69.6,1)[69.6]};
\end{axis}
\node[cbl] at (491,{1429-1422.3}) {0};
\node[cbl] at (586,{1429-1422.3}) {0.02};
\node[cbl] at (683.7,{1429-1422.3}) {0.04};
\node[cbl] at (779.3,{1429-1422.3}) {0.06};
\node[cbl] at (816.7,{1429-1422.3}) {>0.06};
\node[cbl,anchor=west] at (839.3,{1429-1405}) {Extinction coefficient (km\textsuperscript{-1})};
\end{tikzpicture}
\end{document}
